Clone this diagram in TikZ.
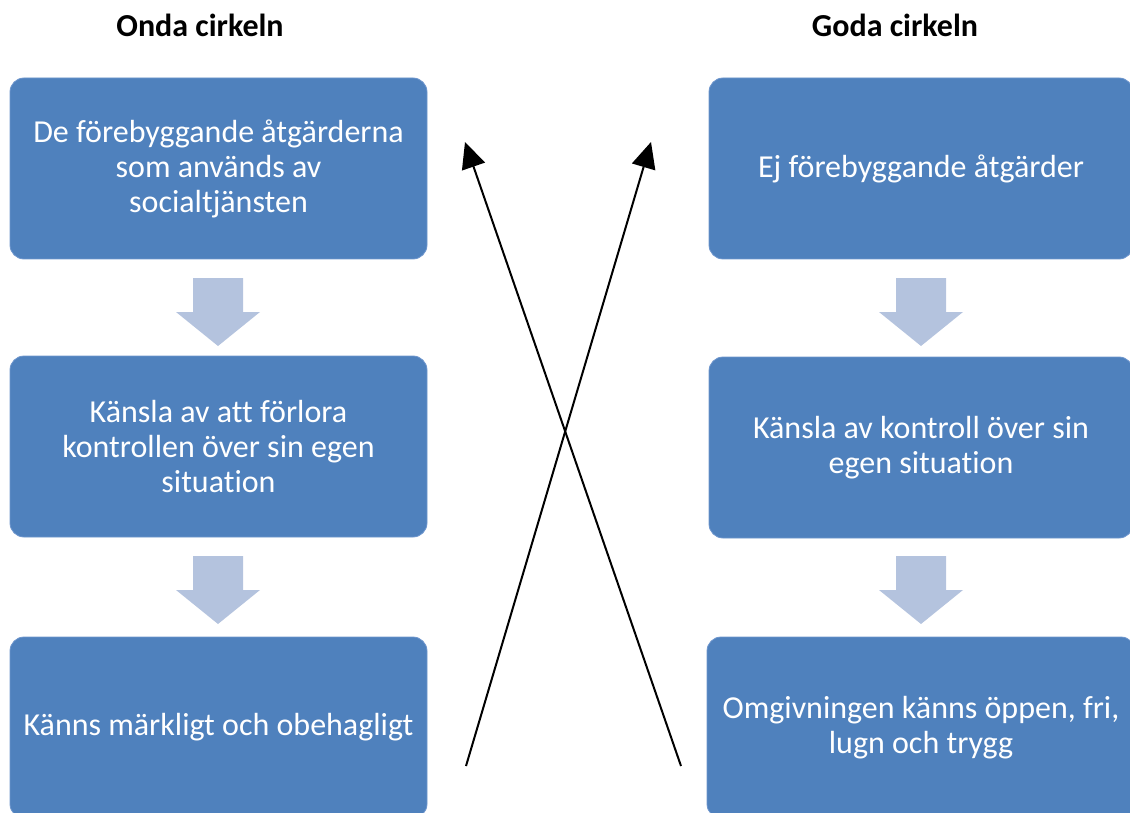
\documentclass[tikz,border=0pt]{standalone}
\usepackage{fontspec}
\setmainfont{Carlito}[RawFeature={-liga}]
\usetikzlibrary{arrows.meta}
\definecolor{boxblue}{RGB}{79,129,189}
\definecolor{boxedge}{RGB}{110,150,205}
\definecolor{stepblue}{RGB}{180,195,222}
\tikzset{
  cyclebox/.style={rectangle, rounded corners=14pt, fill=boxblue, draw=boxedge,
    line width=0.8pt, minimum width=417pt, minimum height=181pt, text=white,
    align=center, inner sep=0pt,
    font=\fontsize{32}{35}\selectfont},
  heading/.style={font=\bfseries\fontsize{32}{36}\selectfont, inner sep=0pt},
  downstep/.style={fill=stepblue},
  crossline/.style={line width=2pt, -{Triangle[length=26pt,width=24pt]}}
}
\newcommand{\downarrowat}[2]{%
  \fill[downstep] (#1-25,#2) -- (#1+25,#2) -- (#1+25,#2+34) -- (#1+42,#2+34)
    -- (#1,#2+68) -- (#1-42,#2+34) -- (#1-25,#2+34) -- cycle;}
\begin{document}
\begin{tikzpicture}[x=1pt,y=-1pt]
\useasboundingbox (0,0) rectangle (1130,813);

% column headings
\node[heading] (ondahead) at (200,25) {Onda cirkeln};
\node[heading] (godahead) at (895,25) {Goda cirkeln};

% left cycle
\node[cyclebox] (l1) at (218.5,168.5) {De förebyggande åtgärderna\\som används av\\socialtjänsten};
\node[cyclebox] (l2) at (218.5,446.5) {Känsla av att förlora\\kontrollen över sin egen\\situation};
\node[cyclebox] (l3) at (218.5,727.5) {Känns märkligt och obehagligt};

% right cycle
\node[cyclebox, minimum width=424pt] (r1) at (921,168.5) {Ej förebyggande åtgärder};
\node[cyclebox, minimum width=424pt] (r2) at (921,447.5) {Känsla av kontroll över sin\\egen situation};
\node[cyclebox, minimum width=428pt] (r3) at (921,727.5) {Omgivningen känns öppen, fri,\\lugn och trygg};

% steps between the boxes
\downarrowat{218}{278}
\downarrowat{218}{556}
\downarrowat{921}{278}
\downarrowat{921}{556}

% crossing arrows
\coordinate (lfoot) at (466,766);
\coordinate (rfoot) at (681,766);
\coordinate (ltip) at (465,142);
\coordinate (rtip) at (651,142);
\draw[crossline] (rfoot) -- (ltip);
\draw[crossline] (lfoot) -- (rtip);
\end{tikzpicture}
\end{document}
